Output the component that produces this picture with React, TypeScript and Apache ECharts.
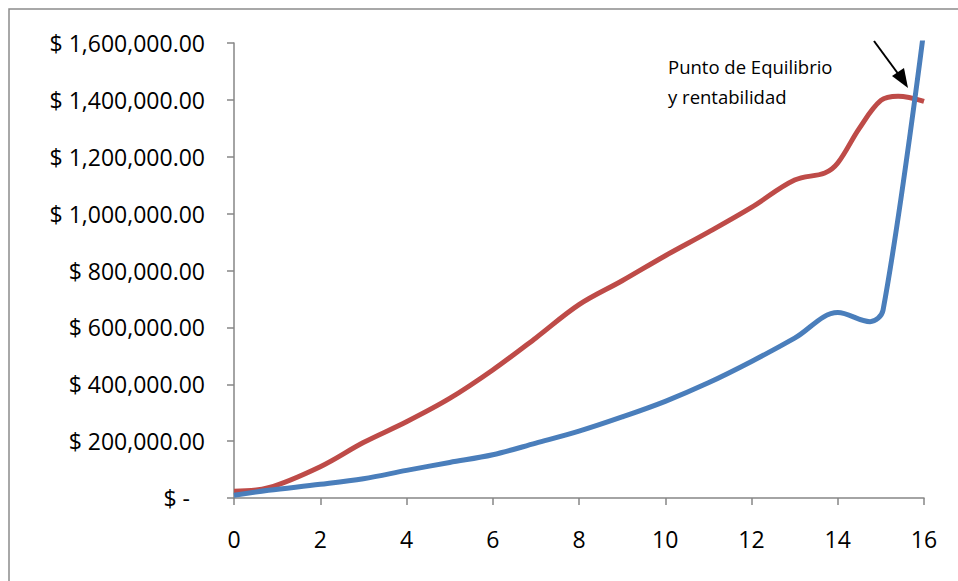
import React, { useEffect, useRef } from "react";
import * as echarts from "echarts";

// Ingresos (red) and Costos (blue)
const redX = [0, 0.8, 2, 3, 4, 5, 6, 7, 8, 9, 10, 11, 12, 13, 13.7, 14, 14.5, 15, 15.4, 16];
const redY = [24000, 36000, 110000, 195000, 268000, 350000, 450000, 563000, 680000, 764000, 852000, 935000, 1022000, 1118000, 1143000, 1178000, 1300000, 1398000, 1413000, 1395000];

const blueX = [0, 0.8, 2, 3, 4, 5, 6, 7, 8, 9, 10, 11, 12, 13, 14, 14.75, 15.05, 16];
const blueY = [10000, 27000, 48000, 68000, 97000, 125000, 152000, 193000, 235000, 285000, 340000, 405000, 480000, 562000, 652000, 620000, 660000, 1650000];

const xTicks = { min: 0, max: 16, interval: 2 };
const yTicks = { min: 0, max: 1600000, interval: 200000 };

const annotationLines = ["Punto de Equilibrio", "y rentabilidad"];

const FONT = "'Open Sans', Lato, sans-serif";

function fmtMoney(v: number): string {
  if (v === 0) return "{z|$ -}";
  return "$ " + v.toLocaleString("en-US", { minimumFractionDigits: 2, maximumFractionDigits: 2 });
}

export default function App() {
  const ref = useRef<HTMLDivElement>(null);
  useEffect(() => {
    if (!ref.current) return;
    const chart = echarts.init(ref.current, undefined, { renderer: "svg" });
    const red = redX.map((x, i) => [x, redY[i]]);
    const blue = blueX.map((x, i) => [x, blueY[i]]);
    chart.setOption({
      animation: false,
      backgroundColor: "#ffffff",
      grid: { left: 234, right: 34, top: 43, bottom: 83, containLabel: false },
      xAxis: {
        type: "value",
        min: xTicks.min,
        max: xTicks.max,
        interval: xTicks.interval,
        axisLine: { show: true, onZero: false, lineStyle: { color: "#868686", width: 1.5 } },
        axisTick: { show: true, length: 7, lineStyle: { color: "#868686", width: 1.5 } },
        splitLine: { show: false },
        axisLabel: { color: "#000", fontSize: 23, fontFamily: FONT, margin: 29 },
      },
      yAxis: {
        type: "value",
        min: yTicks.min,
        max: yTicks.max,
        interval: yTicks.interval,
        axisLine: { show: true, lineStyle: { color: "#868686", width: 1.5 } },
        axisTick: { show: true, length: 7, lineStyle: { color: "#868686", width: 1.5 } },
        splitLine: { show: false },
        axisLabel: {
          color: "#000",
          fontSize: 23,
          fontFamily: FONT,
          margin: 29,
          formatter: fmtMoney,
          rich: { z: { fontSize: 23, fontFamily: FONT, color: "#000", padding: [0, 15, 0, 0] } },
        },
      },
      series: [
        {
          type: "line",
          data: red,
          smooth: 0.35,
          showSymbol: false,
          clip: true,
          lineStyle: { color: "#BE4B48", width: 5 },
          z: 2,
        },
        {
          type: "line",
          data: blue,
          smooth: 0.35,
          showSymbol: false,
          clip: true,
          lineStyle: { color: "#4A7EBB", width: 5 },
          z: 3,
        },
      ],
      graphic: [
        {
          type: "rect",
          shape: { x: 9, y: 9, width: 1200, height: 1200 },
          style: { fill: "none", stroke: "#8c8c8c", lineWidth: 1.5 },
          silent: true,
        },
        {
          type: "text",
          x: 668,
          y: 51,
          style: {
            text: annotationLines.join("\n"),
            fontSize: 18.5,
            fontFamily: FONT,
            fill: "#000",
            lineHeight: 30,
          },
        },
        {
          type: "line",
          shape: { x1: 874, y1: 41, x2: 899, y2: 75 },
          style: { stroke: "#000", lineWidth: 2 },
        },
        {
          type: "polygon",
          shape: { points: [[908, 88], [892, 76], [904, 68]] },
          style: { fill: "#000" },
        },
      ],
    });
    return () => chart.dispose();
  }, []);
  return <div ref={ref} style={{ position: "absolute", left: 0, top: 0, width: 958, height: 581 }} />;
}
